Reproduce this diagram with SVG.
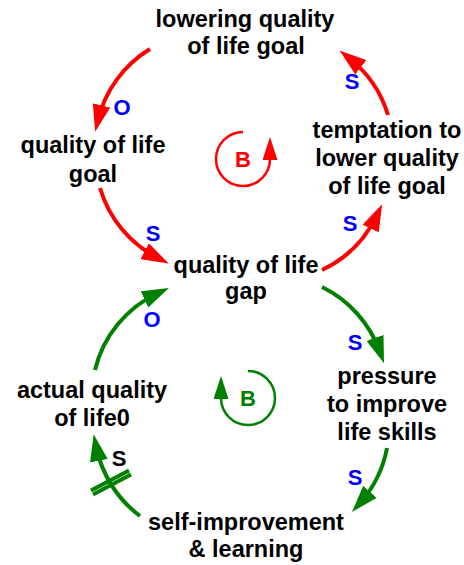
<svg xmlns="http://www.w3.org/2000/svg" width="464" height="565" viewBox="0 0 464 565">
<style>
.n{font-family:"Liberation Sans",Arial,sans-serif;font-weight:bold;font-size:23.5px;fill:#000;text-anchor:middle}
.p{font-family:"Liberation Sans",Arial,sans-serif;font-weight:bold;font-size:22px;fill:#0000FF;text-anchor:middle}
.pk{fill:#000}
.r{fill:none;stroke:#FF0000;stroke-width:4}
.g{fill:none;stroke:#008000;stroke-width:4}
.lr{fill:none;stroke:#FF0000;stroke-width:2.5}
.lg{fill:none;stroke:#008000;stroke-width:2.5}
</style>
<defs>
<marker id="ar" markerUnits="userSpaceOnUse" markerWidth="27" markerHeight="18" viewBox="0 0 27 18" refX="15" refY="9" orient="auto"><path d="M0,0 L27,9 L0,18 z" fill="#FF0000"/></marker>
<marker id="ag" markerUnits="userSpaceOnUse" markerWidth="27" markerHeight="18" viewBox="0 0 27 18" refX="15" refY="9" orient="auto"><path d="M0,0 L27,9 L0,18 z" fill="#008000"/></marker>
<marker id="lar" markerUnits="userSpaceOnUse" markerWidth="23" markerHeight="15" viewBox="0 0 23 15" refX="1" refY="7.5" orient="auto"><path d="M0,0 L23,7.5 L0,15 z" fill="#FF0000"/></marker>
<marker id="lag" markerUnits="userSpaceOnUse" markerWidth="23" markerHeight="15" viewBox="0 0 23 15" refX="1" refY="7.5" orient="auto"><path d="M0,0 L23,7.5 L0,15 z" fill="#008000"/></marker>
</defs>
<g id="connectors">
<path class="r" marker-end="url(#ar)" d="M150,49 A115,115 0 0 0 98,120"/>
<path class="r" marker-end="url(#ar)" d="M100,188 A115,115 0 0 0 158,258"/>
<path class="r" marker-end="url(#ar)" d="M322,270 A115,115 0 0 0 377,215"/>
<path class="r" marker-end="url(#ar)" d="M388,115 A115,115 0 0 0 349,58"/>
<path class="g" marker-end="url(#ag)" d="M322,287 A115,115 0 0 1 380,352"/>
<path class="g" marker-end="url(#ag)" d="M387,448 A115,115 0 0 1 360,503"/>
<path class="g" marker-end="url(#ag)" d="M140,516 A115,115 0 0 1 96,446"/>
<path class="g" marker-end="url(#ag)" d="M95,370 A115,115 0 0 1 158,293"/>
<g stroke="#008000" stroke-width="4">
<line x1="91" y1="490.5" x2="129" y2="470.5"/>
<line x1="93" y1="494.5" x2="131" y2="474.5"/>
</g>
<text class="p" x="122" y="115">O</text>
<text class="p" x="352" y="89">S</text>
<text class="p" x="153" y="241">S</text>
<text class="p" x="350" y="231">S</text>
<text class="p" x="152" y="327">O</text>
<text class="p" x="355" y="350">S</text>
<text class="p" x="355" y="485">S</text>
<text class="p pk" x="119" y="466">S</text>
</g>
<g id="loop-red">
<path class="lr" marker-end="url(#lar)" d="M243,132 A27,27 0 1 0 270,159"/>
<text class="p" style="fill:#FF0000" x="243" y="167">B</text>
</g>
<g id="loop-green">
<path class="lg" marker-end="url(#lag)" d="M248,371 A27,27 0 1 1 221,398"/>
<text class="p" style="fill:#008000" x="248" y="406">B</text>
</g>
<g id="n-lowering"><text class="n" x="245" y="27">lowering quality</text><text class="n" x="246" y="54">of life goal</text></g>
<g id="n-goal"><text class="n" x="93" y="153">quality of life</text><text class="n" x="93" y="182">goal</text></g>
<g id="n-temptation"><text class="n" x="387" y="138">temptation to</text><text class="n" x="387" y="166">lower quality</text><text class="n" x="387" y="194">of life goal</text></g>
<g id="n-gap"><text class="n" x="246" y="273">quality of life</text><text class="n" x="246" y="299">gap</text></g>
<g id="n-actual"><text class="n" x="92" y="398">actual quality</text><text class="n" x="92" y="426">of life0</text></g>
<g id="n-pressure"><text class="n" x="387" y="384">pressure</text><text class="n" x="387" y="412">to improve</text><text class="n" x="387" y="440">life skills</text></g>
<g id="n-self"><text class="n" x="246" y="530">self-improvement</text><text class="n" x="246" y="557">&amp; learning</text></g>
</svg>
